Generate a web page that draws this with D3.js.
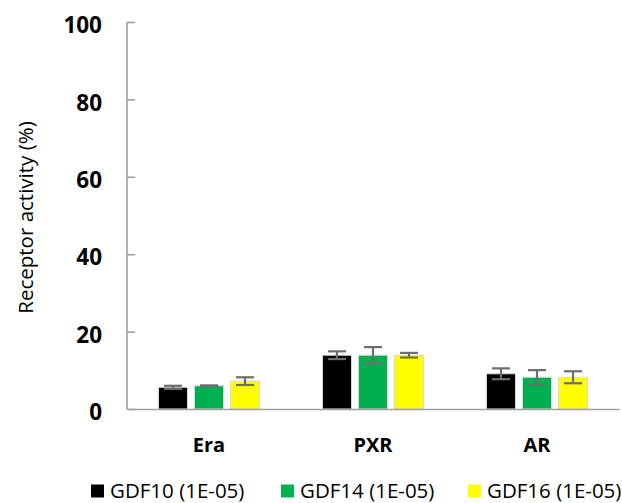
<!DOCTYPE html>
<html>
<head>
<meta charset="utf-8">
<script src="https://cdnjs.cloudflare.com/ajax/libs/d3/7.8.5/d3.min.js"></script>
<style>
  body { margin: 0; background: #fff; }
  text { font-family: "Open Sans", "DejaVu Sans", sans-serif; }
</style>
</head>
<body>
<div id="chart"></div>
<script>
// data
var categories = ["Era", "PXR", "AR"];
var seriesNames = ["GDF10 (1E-05)", "GDF14 (1E-05)", "GDF16 (1E-05)"];
var seriesColors = ["#000000", "#00b050", "#ffff00"];
var gdf10 = [5.6, 13.9, 9.1];
var gdf14 = [6.0, 13.9, 8.2];
var gdf16 = [7.2, 13.9, 8.2];
var err10 = [0.4, 1.0, 1.4];
var err14 = [0.1, 2.1, 1.85];
var err16 = [1.0, 0.6, 1.55];
var yTicks = [0, 20, 40, 60, 80, 100];

var values = [gdf10, gdf14, gdf16];
var errors = [err10, err14, err16];

var W = 622, H = 503;
var margin = {top: 22, right: 8, bottom: 94, left: 127},
    width = W - margin.left - margin.right,
    height = H - margin.top - margin.bottom;

var svg = d3.select("#chart")
  .append("svg")
    .attr("width", W)
    .attr("height", H);

var g = svg.append("g")
  .attr("transform", "translate(" + margin.left + "," + margin.top + ")");

var x = d3.scaleBand()
  .domain(categories)
  .range([0, 3 * 164])
  .paddingInner(0.384)
  .paddingOuter(0.192);

var xs = d3.scaleBand()
  .domain(d3.range(seriesNames.length))
  .range([0, x.bandwidth()])
  .paddingInner(0.195);

var y = d3.scaleLinear()
  .domain([0, 100])
  .range([height, 0]);

// y axis
var yAxis = g.append("g")
  .call(d3.axisRight(y).tickValues(yTicks).tickSize(8).tickFormat(""));
yAxis.select(".domain").attr("stroke", "#a0a0a0").attr("stroke-width", 1.6)
  .attr("d", "M0," + height + "V0");
yAxis.selectAll(".tick line").attr("stroke", "#a0a0a0").attr("stroke-width", 1.6);

g.selectAll(".ylab")
  .data(yTicks)
  .enter()
  .append("text")
    .attr("x", -25)
    .attr("y", function(d) { return y(d); })
    .attr("dy", "0.5em")
    .attr("text-anchor", "end")
    .style("font-size", "22.5px")
    .style("font-weight", "bold")
    .text(function(d) { return d; });

// y title
svg.append("text")
  .attr("transform", "translate(26," + (margin.top + height / 2 + 2) + ") rotate(-90)")
  .attr("text-anchor", "middle")
  .attr("dy", "0.35em")
  .style("font-size", "20.5px")
  .text("Receptor activity (%)");

// bars
var groups = g.selectAll(".grp")
  .data(categories)
  .enter()
  .append("g")
    .attr("transform", function(d) { return "translate(" + x(d) + ",0)"; });

groups.each(function(cat, ci) {
  var sel = d3.select(this);
  seriesNames.forEach(function(s, si) {
    var v = values[si][ci];
    sel.append("rect")
      .attr("x", xs(si))
      .attr("width", xs.bandwidth())
      .attr("y", y(v))
      .attr("height", y(0) - y(v))
      .attr("fill", seriesColors[si])
      .attr("stroke", "#d8d8d8")
      .attr("stroke-width", 1);
  });
});

// error bars
groups.each(function(cat, ci) {
  var sel = d3.select(this);
  seriesNames.forEach(function(s, si) {
    var v = values[si][ci], e = errors[si][ci];
    var cx = xs(si) + xs.bandwidth() / 2;
    var eb = sel.append("g").attr("stroke", "#6e6e6e").attr("stroke-width", 2.2);
    eb.append("line").attr("x1", cx).attr("x2", cx).attr("y1", y(v - e)).attr("y2", y(v + e));
    eb.append("line").attr("x1", cx - 9).attr("x2", cx + 9).attr("y1", y(v - e)).attr("y2", y(v - e));
    eb.append("line").attr("x1", cx - 9).attr("x2", cx + 9).attr("y1", y(v + e)).attr("y2", y(v + e));
  });
});

// x axis
var xAxis = g.append("g")
  .attr("transform", "translate(0," + height + ")")
  .call(d3.axisBottom(x).tickSize(0).tickPadding(29));
xAxis.select(".domain").attr("stroke", "#a0a0a0").attr("stroke-width", 1.6);
xAxis.selectAll("text")
  .style("font-size", "20px")
  .style("font-weight", "bold")
  .style("font-family", "'Open Sans', sans-serif")
  .attr("fill", "#000");

// legend
var legendX = [91, 281, 468];
var legend = svg.selectAll(".leg")
  .data(seriesNames)
  .enter()
  .append("g")
    .attr("transform", function(d, i) { return "translate(" + legendX[i] + ",491)"; });
legend.append("rect")
  .attr("x", 0).attr("y", -6.5)
  .attr("width", 13).attr("height", 13)
  .attr("fill", function(d, i) { return seriesColors[i]; });
legend.append("text")
  .attr("x", 19)
  .attr("dy", "0.36em")
  .style("font-size", "20.5px")
  .text(function(d) { return d; });
</script>
</body>
</html>
